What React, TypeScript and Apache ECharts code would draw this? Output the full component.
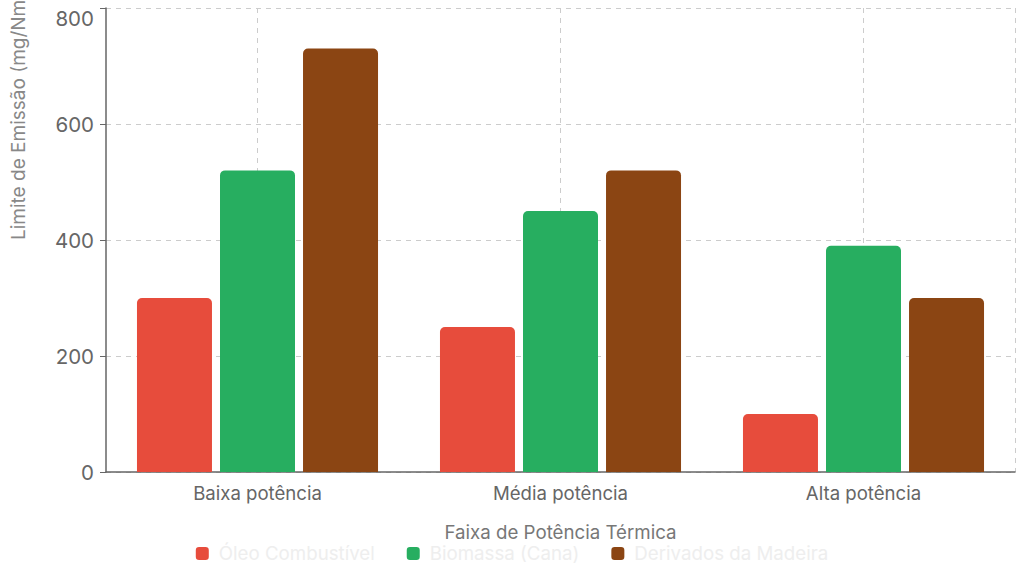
import React, { useEffect, useRef } from "react";
import * as echarts from "echarts";

const categories = ["Baixa potência", "Média potência", "Alta potência"];
const seriesNames = ["Óleo Combustível", "Biomassa (Cana)", "Derivados da Madeira"];
const oleo = [300, 250, 100];
const biomassa = [520, 450, 390];
const madeira = [730, 520, 300];
const colors = ["#E74C3C", "#27AE60", "#8B4513"];
const gridSlots = ["0", "1", "2", "3", "4", "5", "6"];

export default function App() {
  const ref = useRef<HTMLDivElement>(null);
  useEffect(() => {
    if (!ref.current) return;
    const chart = echarts.init(ref.current, undefined, { renderer: "svg" });
    const font = "Inter, 'Noto Sans', sans-serif";
    const values = [oleo, biomassa, madeira];
    chart.setOption({
      animation: false,
      textStyle: { fontFamily: font },
      grid: {
        left: 106,
        right: 9,
        top: 8,
        bottom: 104,
        containLabel: false,
        outerBoundsMode: "none",
      },
      legend: {
        bottom: 8,
        left: "center",
        icon: "roundRect",
        itemWidth: 13,
        itemHeight: 13,
        itemGap: 32,
        textStyle: { color: "#eeeeee", fontSize: 18.7, fontFamily: font, padding: [0, 0, 0, 5] },
        data: seriesNames,
      },
      xAxis: [
        {
          type: "category",
          data: categories,
          name: "Faixa de Potência Térmica",
          nameLocation: "middle",
          nameGap: 51,
          nameTextStyle: { color: "#777777", fontSize: 18.7, fontFamily: font },
          axisLine: { lineStyle: { color: "#666666", width: 1.5 } },
          axisTick: { alignWithLabel: true, length: 6, lineStyle: { color: "#666666" } },
          axisLabel: { color: "#666666", fontSize: 18.6, margin: 11, fontFamily: font },
          splitLine: { show: false },
        },
        {
          type: "category",
          data: gridSlots,
          boundaryGap: false,
          position: "bottom",
          axisLine: { show: false },
          axisTick: { show: false },
          axisLabel: { show: false },
          splitLine: {
            show: true,
            interval: (idx: number) => idx % 2 === 1 || idx === 6,
            lineStyle: { color: "#cccccc", type: [5, 5] },
          },
        },
      ],
      yAxis: {
        type: "value",
        min: 0,
        max: 800,
        interval: 200,
        name: "Limite de Emissão (mg/Nm³)",
        nameLocation: "middle",
        nameRotate: 90,
        nameGap: 78,
        nameTextStyle: { color: "#888888", fontSize: 19, align: "left", fontFamily: font },
        axisLine: { show: true, lineStyle: { color: "#666666", width: 1.5 } },
        axisTick: { show: true, length: 6, lineStyle: { color: "#666666" } },
        axisLabel: {
          color: "#666666",
          fontSize: 20.5,
          margin: 12,
          fontFamily: font,
          verticalAlignMaxLabel: "top",
        },
        splitLine: { show: true, lineStyle: { color: "#cccccc", type: [5, 5] } },
      },
      series: seriesNames.map((name, i) => ({
        name,
        type: "bar",
        xAxisIndex: 0,
        data: values[i],
        barWidth: 75,
        barGap: "10.7%",
        itemStyle: { color: colors[i], borderRadius: [5, 5, 0, 0] },
      })),
    });
    return () => chart.dispose();
  }, []);
  return (
    <div
      ref={ref}
      style={{ position: "fixed", left: 0, top: 0, width: 1024, height: 576, background: "#ffffff" }}
    />
  );
}
